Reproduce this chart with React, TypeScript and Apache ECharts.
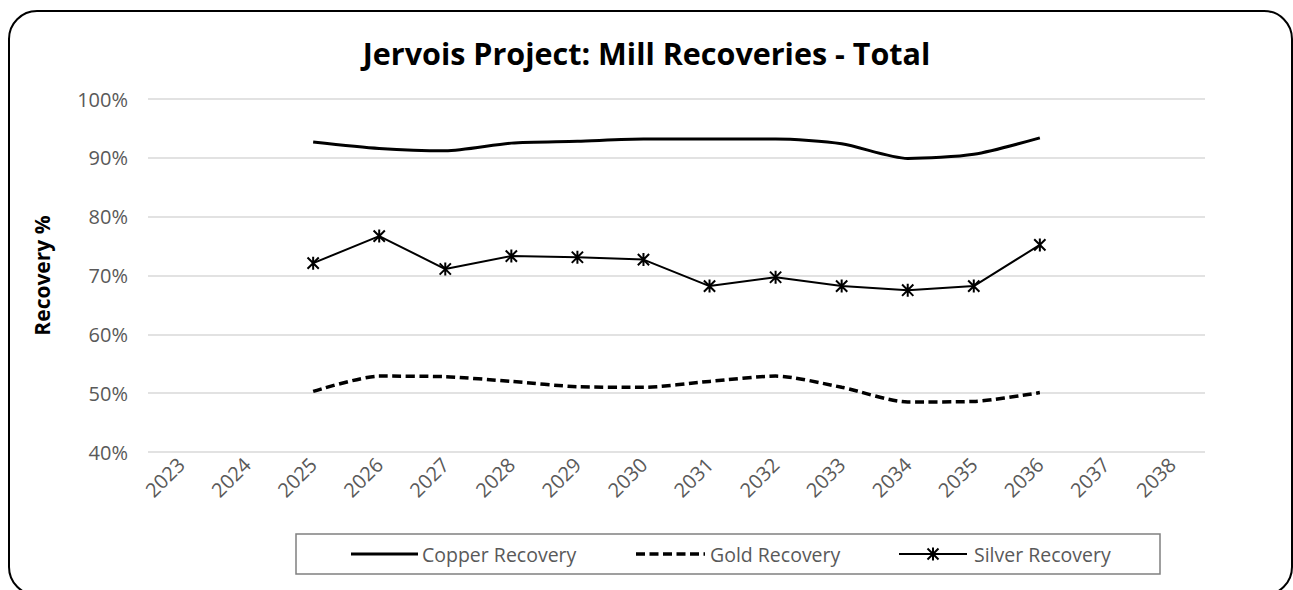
import React, { useEffect, useRef } from "react";
import * as echarts from "echarts";

const years = ["2023","2024","2025","2026","2027","2028","2029","2030","2031","2032","2033","2034","2035","2036","2037","2038"];
const copper = [null, null, 92.7, 91.6, 91.2, 92.5, 92.8, 93.2, 93.2, 93.2, 92.4, 89.9, 90.6, 93.4, null, null];
const gold = [null, null, 50.3, 52.9, 52.8, 52.0, 51.1, 51.0, 52.0, 52.9, 51.0, 48.5, 48.6, 50.1, null, null];
const silver = [null, null, 72.1, 76.7, 71.1, 73.3, 73.1, 72.7, 68.2, 69.7, 68.2, 67.5, 68.2, 75.2, null, null];
const yTicks = [40, 50, 60, 70, 80, 90, 100];
const seriesNames = ["Copper Recovery", "Gold Recovery", "Silver Recovery"];

const FONT = "'Open Sans', Lato, sans-serif";
const STAR = "path://M0,-6L0,6M-5.2,-5.2L5.2,5.2M-5.2,5.2L5.2,-5.2";
const GOLD_DASH = [9, 4.5];

function legendGraphics() {
  const y = 554;
  const black = { stroke: "#000" };
  const textStyle = (t: string) => ({
    text: t,
    fill: "#595959",
    font: `19.5px ${FONT}`,
    verticalAlign: "middle",
  });
  const cx = 933;
  const s = 6.5;
  const d = 5.5;
  return [
    { type: "line", shape: { x1: 351, y1: y, x2: 418, y2: y }, style: { ...black, lineWidth: 3 }, silent: true },
    { type: "text", x: 422, y, style: textStyle(seriesNames[0]), silent: true },
    { type: "line", shape: { x1: 636, y1: y, x2: 705, y2: y }, style: { ...black, lineWidth: 3.5, lineDash: GOLD_DASH }, silent: true },
    { type: "text", x: 710, y, style: textStyle(seriesNames[1]), silent: true },
    { type: "line", shape: { x1: 899, y1: y, x2: 967, y2: y }, style: { ...black, lineWidth: 2 }, silent: true },
    { type: "line", shape: { x1: cx, y1: y - s, x2: cx, y2: y + s }, style: { ...black, lineWidth: 2 }, silent: true },
    { type: "line", shape: { x1: cx - d, y1: y - d, x2: cx + d, y2: y + d }, style: { ...black, lineWidth: 2 }, silent: true },
    { type: "line", shape: { x1: cx - d, y1: y + d, x2: cx + d, y2: y - d }, style: { ...black, lineWidth: 2 }, silent: true },
    { type: "text", x: 974, y, style: textStyle(seriesNames[2]), silent: true },
  ];
}

export default function App() {
  const ref = useRef<HTMLDivElement>(null);
  useEffect(() => {
    const chart = echarts.init(ref.current!, null, { renderer: "svg" });
    chart.setOption({
      animation: false,
      backgroundColor: "#ffffff",
      title: {
        text: "Jervois Project: Mill Recoveries - Total",
        left: "center",
        top: 32,
        textStyle: { fontFamily: FONT, fontSize: 30.5, fontWeight: "bold", color: "#000" },
      },
      graphic: [
        {
          type: "rect",
          shape: { x: 9, y: 11, width: 1283, height: 584, r: 28 },
          style: { fill: "none", stroke: "#000", lineWidth: 2 },
          silent: true,
        },
        {
          type: "rect",
          shape: { x: 296, y: 534, width: 864, height: 40 },
          style: { fill: "none", stroke: "#808080", lineWidth: 1.5 },
          silent: true,
        },
        ...legendGraphics(),
      ],
      grid: { left: 148, right: 88, top: 99, bottom: 138 },
      xAxis: {
        type: "category",
        data: years,
        boundaryGap: true,
        axisLine: { show: false },
        axisTick: { show: false },
        axisLabel: { rotate: 45, fontFamily: FONT, fontSize: 20, color: "#595959", margin: 9 },
      },
      yAxis: {
        type: "value",
        min: 40,
        max: 100,
        interval: 10,
        name: "Recovery %",
        nameLocation: "middle",
        nameGap: 96,
        nameTextStyle: { fontFamily: FONT, fontSize: 21, fontWeight: "bold", color: "#000" },
        axisLabel: {
          fontFamily: FONT,
          fontSize: 20,
          color: "#595959",
          margin: 20,
          formatter: (v: number) => (yTicks.includes(v) ? v + "%" : ""),
        },
        splitLine: { lineStyle: { color: "#d9d9d9", width: 1.5 } },
      },
      series: [
        {
          name: seriesNames[0],
          type: "line",
          data: copper,
          smooth: 0.25,
          symbol: "none",
          lineStyle: { color: "#000", width: 3 },
          itemStyle: { color: "#000" },
        },
        {
          name: seriesNames[1],
          type: "line",
          data: gold,
          smooth: 0.25,
          symbol: "none",
          lineStyle: { color: "#000", width: 3.5, type: GOLD_DASH },
          itemStyle: { color: "#000" },
        },
        {
          name: seriesNames[2],
          type: "line",
          data: silver,
          symbol: STAR,
          symbolSize: 13,
          symbolKeepAspect: true,
          lineStyle: { color: "#000", width: 2 },
          itemStyle: { color: "none", borderColor: "#000", borderWidth: 2 },
        },
      ],
    });
    return () => chart.dispose();
  }, []);
  return (
    <div
      ref={ref}
      style={{ position: "fixed", left: 0, top: 0, width: 1293, height: 590 }}
    />
  );
}
